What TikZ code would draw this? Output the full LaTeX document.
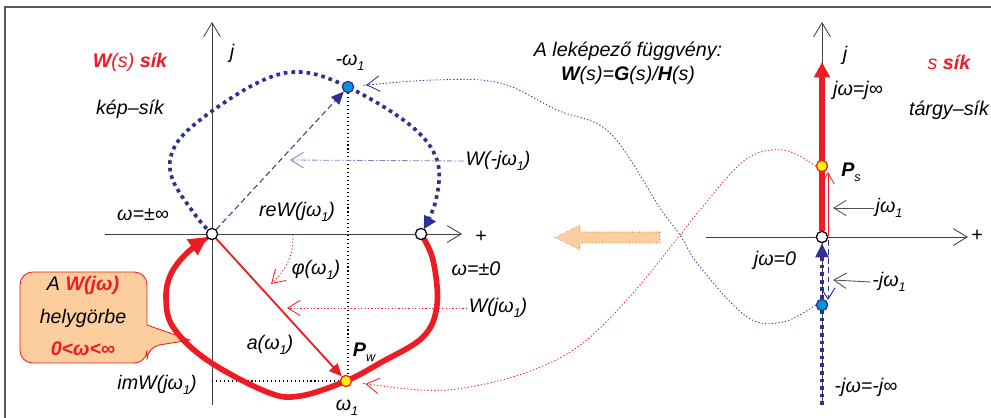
\documentclass[tikz,border=0pt]{standalone}
\usepackage{fontspec}
\setmainfont{Liberation Sans}
\usetikzlibrary{positioning, arrows.meta, backgrounds}

\definecolor{piros}{RGB}{237,28,36}
\definecolor{kek}{RGB}{46,49,146}
\definecolor{vkek}{RGB}{0,150,214}
\definecolor{sarga}{RGB}{255,242,0}
\definecolor{barack}{RGB}{252,206,158}

\newcommand\ix[1]{\raisebox{-0.5ex}{\fontsize{9}{9}\selectfont #1}}

\tikzset{
  tengely/.style={draw=black!75, line width=0.6pt, -{Straight Barb[length=10pt,width=12pt]}},
  mutat/.style={line width=0.6pt, -{Straight Barb[length=9pt,width=11pt]}},
  pont/.style={circle, draw, line width=0.9pt, minimum size=8pt, inner sep=0pt},
  ures/.style={pont, draw=black, fill=white},
  sargapt/.style={pont, draw=piros, fill=sarga},
  kekpt/.style={pont, draw=kek, fill=vkek},
  vastagpiros/.style={draw=piros, line width=4pt},
  vastagkek/.style={draw=kek, line width=2.6pt, dash pattern=on 2.6pt off 2.8pt},
  pontozott/.style={line width=0.9pt, dash pattern=on 0.9pt off 1.5pt},
  szaggatott/.style={line width=0.7pt, dash pattern=on 4pt off 2.5pt}
}

\begin{document}
\begin{tikzpicture}[x=0.025cm, y=-0.025cm, node distance=0.6cm,
    font=\fontsize{14}{17}\selectfont\itshape, inner sep=1pt]
    \useasboundingbox (0,0) rectangle (991,418);
    \draw[black!65, line width=1.2pt] (5,418) -- (5,7) -- (991,7);

    \node[ures] (o1) at (212,234) {};
    \node[ures] (z1) at (421,234) {};
    \node[kekpt] (m1) at (348,87) {};
    \node[sargapt] (p1) at (346,381) {};
    \node[ures] (o2) at (822,237) {};
    \node[sargapt] (p2) at (822,166) {};
    \node[kekpt] (m2) at (822,305) {};

    \node[text=piros] (wsik) at (130,62) {\textbf{W}(s) \textbf{sík}};
    \node (kepsik) at (130,109) {kép–sík};
    \node (jw) at (232,53) {j};
    \node (mw1) at (350,63) {-ω\ix{1}};
    \node (wminus) at (498,161) {W(-jω\ix{1})};
    \node (rew) at (297,212) {reW(jω\ix{1})};
    \node (winf) at (143,215) {ω=±∞};
    \node (wnull) at (476,269) {ω=±0};
    \node (fi) at (316,270) {φ(ω\ix{1})};
    \node (wplus) at (498,308) {W(jω\ix{1})};
    \node (aw) at (270,345) {a(ω\ix{1})};
    \node (pwlab) at (364,352) {\textbf{P}\ix{w}};
    \node (imw) at (157,385) {imW(jω\ix{1})};
    \node (w1) at (347,408) {ω\ix{1}};
    \node (plusz1) at (481,237) {\upshape +};

    \node (lekep) at (628,51) {A leképező függvény:};
    \node (keplet) at (628,75) {\textbf{W}(s)=\textbf{G}(s)/\textbf{H}(s)};

    \node (js) at (845,55) {j};
    \node[text=piros] (ssik) at (949,62) {s \textbf{sík}};
    \node (tsik) at (949,110) {tárgy–sík};
    \node (jinf) at (858,90) {jω=j∞};
    \node (pslab) at (851,172) {\textbf{P}\ix{s}};
    \node (jw1) at (889,208) {jω\ix{1}};
    \node (jnull) at (775,260) {jω=0};
    \node (mjw1) at (889,282) {-jω\ix{1}};
    \node (mjinf) at (866,387) {-jω=-j∞};
    \node (plusz2) at (977,236) {\upshape +};

    \node[align=center, font=\fontsize{14}{23}\selectfont\itshape] (hely) at (83,316)
        {A \textcolor{piros}{\textbf{W(jω)}}\\helygörbe\\\textcolor{piros}{\textbf{0<ω<∞}}};

    \coordinate (wmv) at (290,160);
    \coordinate (wpv) at (287,308);
    \coordinate (fi1) at (293,235);
    \coordinate (fi2) at (271,284);
    \coordinate (jtop) at (822,62);
    \coordinate (jbot) at (822,405);
    \coordinate (jv1) at (828,236);
    \coordinate (jv2) at (828,172);
    \coordinate (mv1) at (828,240);
    \coordinate (mv2) at (828,300);

    \begin{scope}[on background layer]
        \draw[tengely] (105,234) -- (462,234);
        \draw[tengely] (212,405) -- (212,22);
        \draw[tengely] (706,237) -- (968,237);
        \draw[tengely] (822,405) -- (822,22);

        \draw[piros, line width=0.6pt, fill=barack, rounded corners=9pt]
            (147,300) -- (147,272) -- (20,272) -- (20,363) -- (147,363) -- (147,347)
            [sharp corners] -- (190,340) -- (147,325) -- cycle;
        \draw[black!70, dotted, fill=barack] (660,232) -- (580,232) -- (580,225) -- (555,237.5)
            -- (580,250) -- (580,243) -- (660,243) -- cycle;

        \draw[line width=0.8pt, dotted] (m1) -- (m1 |- p1);
        \draw[line width=0.8pt, dotted] (o1 |- p1) -- (p1);

        \draw[vastagkek, -{Triangle[length=9pt,width=9pt]}, shorten >=4pt]
            plot[smooth, tension=0.6] coordinates {(o1) (196,216) (172,178) (174,148) (200,120)
            (257,83) (300,72) (m1) (410,125) (437,160) (436,200) (z1)};
        \draw[vastagpiros, -{Triangle[length=13pt,width=13pt]}, shorten >=4pt]
            plot[smooth, tension=0.6] coordinates {(z1) (433,260) (437,305) (423,337) (380,363)
            (p1) (300,396) (267,392) (207,360) (173,327) (166,298) (171,274) (187,253) (o1)};

        \draw[piros, line width=1.3pt, -{Triangle[length=9pt,width=8pt]}] (o1) -- (p1);
        \draw[kek, szaggatott, -{Triangle[length=9pt,width=8pt]}] (o1) -- (m1);
        \draw[piros, pontozott, mutat] (fi1) .. controls (293,255) and (288,268) .. (fi2);
        \draw[kek!60, line width=0.5pt, dash pattern=on 4pt off 1.5pt on 1pt off 1.5pt, mutat]
            (wminus.west) -- (wmv);
        \draw[piros, pontozott, mutat] (wplus.west) -- (wpv);

        \draw[piros, pontozott, mutat, shorten >=14pt]
            plot[smooth, tension=0.6] coordinates {(p2.west) (783,150) (745,160) (700,210)
            (680,235) (633,293) (583,343) (533,370) (470,387) (420,390) (p1)};
        \draw[kek, pontozott, mutat, shorten >=13pt]
            plot[smooth, tension=0.6] coordinates {(m2.west) (783,322) (747,317) (700,267)
            (680,235) (660,208) (610,133) (557,110) (500,83) (433,80) (m1)};

        \draw[piros, line width=3.6pt, -{Triangle[length=11pt,width=11pt]}] (o2) -- (jtop);
        \draw[piros, line width=0.6pt, -{Straight Barb[length=8pt,width=9pt]}] (jv1) -- (jv2);
        \draw[vastagkek, -{Triangle[length=10pt,width=9pt]}] (jbot) -- (o2);
        \draw[kek, szaggatott, -{Straight Barb[length=8pt,width=10pt]}] (mv1) -- (mv2);
        \draw[black!70, mutat] (jw1.west) -- (833,208);
        \draw[black!70, mutat] (mjw1.west) -- (833,280);
    \end{scope}
\end{tikzpicture}
\end{document}
